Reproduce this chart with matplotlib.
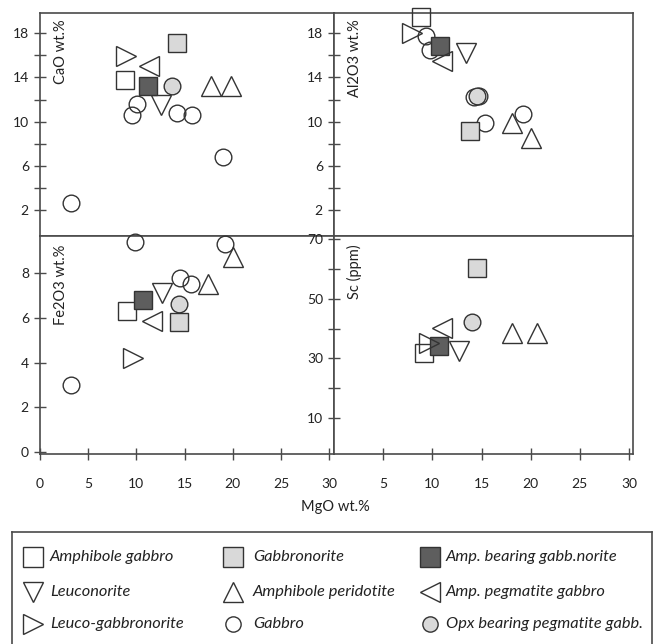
import matplotlib.pyplot as plt

plt.rcParams['font.family'] = ['Lato', 'DejaVu Sans']

# tipos de rocha (mesma ordem em todas as listas abaixo)
grupos = ['Amphibole gabbro', 'Leuconorite', 'Leuco-gabbronorite',
          'Gabbronorite', 'Amphibole peridotite', 'Gabbro',
          'Amp. bearing gabb.norite', 'Amp. pegmatite gabbro',
          'Opx bearing pegmatite gabb.']
marcadores = ['s', 'v', '>', 's', '^', 'o', 's', '<', 'o']
claro = '#d9d9d9'
escuro = '#5e5e5e'
preench = ['none', 'none', 'none', claro, 'none', 'none', escuro, 'none', claro]
tamanhos = [13.5, 14.5, 14.5, 13.5, 14.5, 12, 13.5, 14.5, 12]
ordem = [5, 0, 1, 4, 3, 8, 6, 7, 2]

# CaO x MgO
cao_mgo = [[9.0], [12.7], [9.1], [14.4], [17.9, 19.9],
           [3.5, 9.7, 10.3, 14.4, 15.9, 19.1], [11.4], [11.5], [13.9]]
cao = [[13.8], [11.5], [15.9], [17.1], [13.2, 13.2],
       [2.7, 10.6, 11.6, 10.8, 10.6, 6.8], [13.2], [15.0], [13.2]]

# Al2O3 x MgO
al_mgo = [[8.8], [13.4], [7.9], [13.8], [18.1, 20.0],
          [9.4, 9.8, 14.2, 14.7, 15.4, 19.2], [10.8], [11.0], [14.5]]
al2o3 = [[19.4], [16.2], [18.0], [9.2], [9.9, 8.5],
         [17.7, 16.5, 12.2, 12.3, 9.9, 10.7], [16.8], [15.5], [12.3]]

# Fe2O3 x MgO
fe_mgo = [[9.0], [12.7], [9.6], [14.4], [17.4, 20.0],
          [3.2, 9.9, 14.5, 15.7, 19.2], [10.7], [11.6], [14.4]]
fe2o3 = [[6.3], [7.1], [4.2], [5.8], [7.5, 8.7],
         [3.0, 9.4, 7.8, 7.5, 9.3], [6.8], [5.85], [6.6]]

# Sc x MgO
sc_mgo = [[9.1], [12.7], [9.7], [14.5], [18.1, 20.6],
          [], [10.7], [11.0], [14.0]]
sc = [[31.7], [32.6], [35.3], [60.4], [38.6, 38.6],
      [], [34.2], [40.2], [42.3]]

x_rot = [0, 5, 10, 15, 20, 25, 30]
cor_linha = '#4a4a4a'

fig = plt.figure(figsize=(6.58, 6.44), dpi=100)
W, H = 658, 644
esq, meio, dir_ = 40 / W, 334 / W, 633 / W
topo, meio_y, base = 1 - 13 / H, 1 - 236 / H, 1 - 454 / H

ax_ca = fig.add_axes([esq, meio_y, meio - esq, topo - meio_y])
ax_al = fig.add_axes([meio, meio_y, dir_ - meio, topo - meio_y])
ax_fe = fig.add_axes([esq, base, meio - esq, meio_y - base])
ax_sc = fig.add_axes([meio, base, dir_ - meio, meio_y - base])

paineis = [(ax_ca, cao_mgo, cao), (ax_al, al_mgo, al2o3),
           (ax_fe, fe_mgo, fe2o3), (ax_sc, sc_mgo, sc)]

for ax, xs, ys in paineis:
    for z, i in enumerate(ordem):
        if len(xs[i]) == 0:
            continue
        ax.plot(xs[i], ys[i], linestyle='none', marker=marcadores[i],
                markersize=tamanhos[i], markerfacecolor=preench[i],
                markeredgecolor='#333333', markeredgewidth=1.0,
                clip_on=False, zorder=3 + z)
    for s in ax.spines.values():
        s.set_color(cor_linha)
        s.set_linewidth(1.2)
    ax.tick_params(direction='inout', length=8, width=1, color=cor_linha,
                   labelsize=10, pad=4, labelcolor='#222222')
    ax.tick_params(axis='x', pad=13)

ax_ca.set_xlim(0.3, 30.5)
ax_fe.set_xlim(0.3, 30.5)
ax_al.set_xlim(0, 30.4)
ax_sc.set_xlim(0, 30.4)

for ax in [ax_ca, ax_al]:
    ax.set_ylim(-0.3, 19.8)
    ax.set_yticks([2, 4, 6, 8, 10, 12, 14, 16, 18])
    ax.set_yticklabels(['2', '', '6', '', '10', '', '14', '', '18'])
    ax.set_xticks([])

ax_fe.set_ylim(-0.09, 9.66)
ax_fe.set_yticks([0, 2, 4, 6, 8])
ax_fe.set_xticks(x_rot)
ax_fe.set_xticklabels([str(v) for v in x_rot])

ax_sc.set_ylim(-2, 71)
ax_sc.set_yticks([10, 20, 30, 40, 50, 60, 70])
ax_sc.set_yticklabels(['10', '', '30', '', '50', '', '70'])
ax_sc.set_xticks(x_rot[1:])
ax_sc.set_xticklabels([str(v) for v in x_rot[1:]])

rot_y = [(ax_ca, 'CaO wt.%'), (ax_al, 'Al2O3 wt.%'),
         (ax_fe, 'Fe2O3 wt.%'), (ax_sc, 'Sc (ppm)')]
for ax, txt in rot_y:
    topo_txt = 0.97 if ax in (ax_ca, ax_al) else 0.96
    ax.text(0.07, topo_txt, txt, transform=ax.transAxes, rotation=90,
            ha='center', va='top', fontsize=10.5, color='#222222')

fig.text(335 / W, 1 - 507 / H, 'MgO wt.%', ha='center', va='center',
         fontsize=10.5, color='#222222')

# legenda desenhada numa caixa propria
lg = fig.add_axes([12 / W, -0.03, 640 / W, 112 / H + 0.03])
lg.set_xlim(12, 652)
lg.set_ylim(644 + 0.03 * H, 532)
lg.set_xticks([])
lg.set_yticks([])
for s in lg.spines.values():
    s.set_color(cor_linha)
    s.set_linewidth(1.2)

col_x = [33, 233, 430]
txt_x = [50, 253, 446]
lin_y = [557, 592, 624]
tam_leg = [14, 14, 14, 14, 14, 11, 14, 14, 11]
for i, nome in enumerate(grupos):
    c, r = i // 3, i % 3
    lg.plot([col_x[c]], [lin_y[r]], linestyle='none', marker=marcadores[i],
            markersize=tam_leg[i], markerfacecolor=preench[i],
            markeredgecolor='#333333', markeredgewidth=1.0)
    lg.text(txt_x[c], lin_y[r], nome, ha='left', va='center',
            fontsize=11.8, style='italic', color='#222222')

plt.savefig('out.png', dpi=100)
